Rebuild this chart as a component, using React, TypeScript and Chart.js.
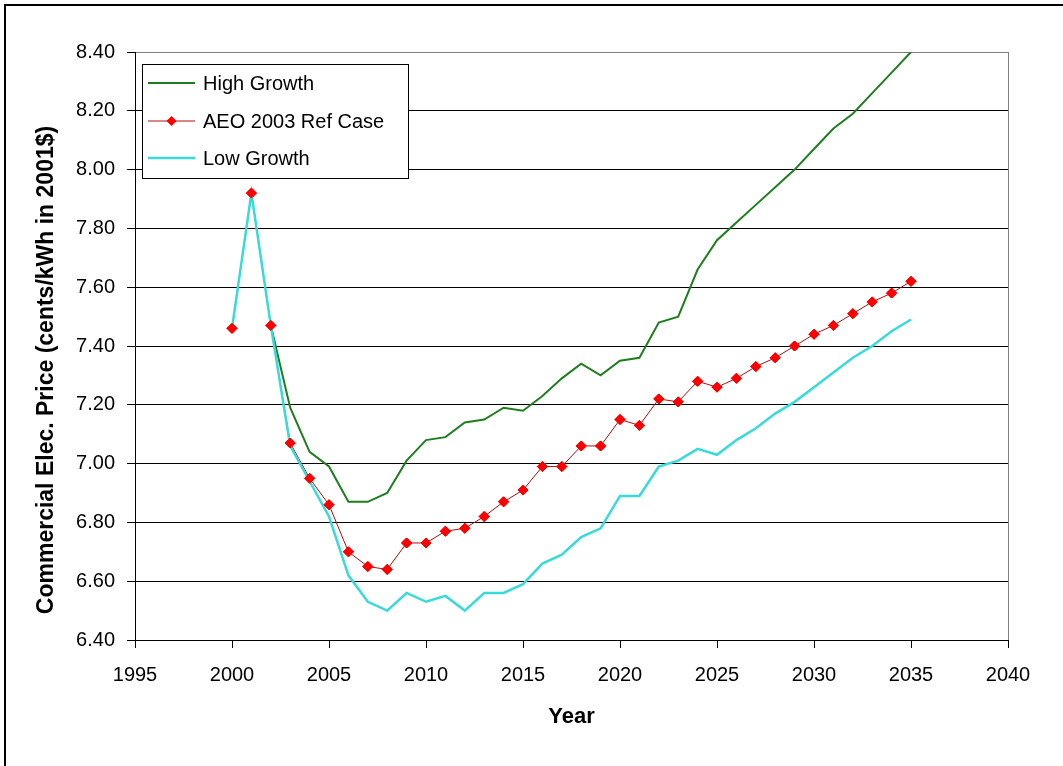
import React, { useEffect, useRef } from "react";
import { Chart, registerables } from "chart.js";

Chart.register(...registerables);

const years: number[] = [
  2000, 2001, 2002, 2003, 2004, 2005, 2006, 2007, 2008, 2009,
  2010, 2011, 2012, 2013, 2014, 2015, 2016, 2017, 2018, 2019,
  2020, 2021, 2022, 2023, 2024, 2025, 2026, 2027, 2028, 2029,
  2030, 2031, 2032, 2033, 2034, 2035,
];

const highGrowth: (number | null)[] = [
  null, null, 7.47, 7.19, 7.04, 6.99, 6.87, 6.87, 6.9, 7.01,
  7.08, 7.09, 7.14, 7.15, 7.19, 7.18, 7.23, 7.29, 7.34, 7.3,
  7.35, 7.36, 7.48, 7.5, 7.66, 7.76, 7.82, 7.88, 7.94, 8.0,
  8.07, 8.14, 8.19, 8.26, 8.33, 8.4,
];

const refCase: number[] = [
  7.46, 7.92, 7.47, 7.07, 6.95, 6.86, 6.7, 6.65, 6.64, 6.73,
  6.73, 6.77, 6.78, 6.82, 6.87, 6.91, 6.99, 6.99, 7.06, 7.06,
  7.15, 7.13, 7.22, 7.21, 7.28, 7.26, 7.29, 7.33, 7.36, 7.4,
  7.44, 7.47, 7.51, 7.55, 7.58, 7.62,
];

const lowGrowth: number[] = [
  7.46, 7.92, 7.47, 7.06, 6.94, 6.82, 6.62, 6.53, 6.5, 6.56,
  6.53, 6.55, 6.5, 6.56, 6.56, 6.59, 6.66, 6.69, 6.75, 6.78,
  6.89, 6.89, 6.99, 7.01, 7.05, 7.03, 7.08, 7.12, 7.17, 7.21,
  7.26, 7.31, 7.36, 7.4, 7.45, 7.49,
];

const seriesLabels = ["High Growth", "AEO 2003 Ref Case", "Low Growth"];
const xTitle = "Year";
const yTitle = "Commercial Elec. Price (cents/kWh in 2001$)";

const FONT = "'Liberation Sans', Arial, sans-serif";

const toPoints = (vals: (number | null)[]) =>
  years.map((yr, i) => ({ x: yr, y: vals[i] }));

const framePlugin = {
  id: "frame",
  beforeDraw(chart: any) {
    const ctx = chart.ctx;
    ctx.save();
    ctx.fillStyle = "#ffffff";
    ctx.fillRect(0, 0, chart.width, chart.height);
    ctx.fillStyle = "#000000";
    ctx.fillRect(4, 4, chart.width - 4, 2);
    ctx.fillRect(4, 4, 2, chart.height - 4);
    ctx.restore();
  },
  afterDraw(chart: any) {
    const ctx = chart.ctx;
    ctx.save();
    ctx.translate(47, 370);
    ctx.rotate(-Math.PI / 2);
    ctx.font = `bold 23px ${FONT}`;
    ctx.fillStyle = "#000000";
    ctx.textAlign = "center";
    ctx.textBaseline = "middle";
    ctx.fillText(yTitle, 0, 0);
    ctx.restore();
  },
};

// markers of the reference case sit above every line, while its thin
// connecting line stays beneath the cyan series
const markersOnTopPlugin = {
  id: "markersOnTop",
  afterDatasetsDraw(chart: any) {
    const meta = chart.getDatasetMeta(1);
    if (!meta || meta.hidden) return;
    const ctx = chart.ctx;
    ctx.save();
    meta.data.forEach((pt: any) => pt.draw(ctx, chart.chartArea));
    ctx.restore();
  },
};

const legendPlugin = {
  id: "boxLegend",
  afterDatasetsDraw(chart: any) {
    const ctx = chart.ctx;
    const x0 = 142, y0 = 64, w = 266, h = 114;
    ctx.save();
    ctx.fillStyle = "#ffffff";
    ctx.fillRect(x0, y0, w, h);
    ctx.strokeStyle = "#000000";
    ctx.lineWidth = 1;
    ctx.strokeRect(x0 + 0.5, y0 + 0.5, w, h);
    const rowY = [83, 121, 158];
    chart.data.datasets.forEach((ds: any, i: number) => {
      const y = rowY[i];
      ctx.strokeStyle = ds.borderColor;
      ctx.lineWidth = ds.borderWidth;
      ctx.beginPath();
      ctx.moveTo(148, y);
      ctx.lineTo(195, y);
      ctx.stroke();
      if (ds.pointRadius > 0) {
        const r = ds.pointRadius;
        ctx.fillStyle = ds.pointBackgroundColor;
        ctx.beginPath();
        ctx.moveTo(171.5, y - r);
        ctx.lineTo(171.5 + r, y);
        ctx.lineTo(171.5, y + r);
        ctx.lineTo(171.5 - r, y);
        ctx.closePath();
        ctx.fill();
      }
      ctx.fillStyle = "#000000";
      ctx.font = `20px ${FONT}`;
      ctx.textAlign = "left";
      ctx.textBaseline = "middle";
      ctx.fillText(ds.label, 203, y + 1);
    });
    ctx.restore();
  },
};

export default function App() {
  const canvasRef = useRef<HTMLCanvasElement | null>(null);

  useEffect(() => {
    const canvas = canvasRef.current;
    if (!canvas) return;
    const chart = new Chart(canvas, {
      type: "line",
      data: {
        datasets: [
          {
            label: seriesLabels[0],
            data: toPoints(highGrowth),
            borderColor: "#1E7E1E",
            backgroundColor: "#1E7E1E",
            borderWidth: 2,
            pointRadius: 0,
            tension: 0,
            order: 3,
          },
          {
            label: seriesLabels[1],
            data: toPoints(refCase),
            borderColor: "#B01010",
            backgroundColor: "#FF0000",
            borderWidth: 1,
            pointStyle: "rectRot",
            pointRadius: 5,
            pointBackgroundColor: "#FF0000",
            pointBorderColor: "#FF0000",
            pointBorderWidth: 1,
            tension: 0,
            order: 2,
          },
          {
            label: seriesLabels[2],
            data: toPoints(lowGrowth),
            borderColor: "#38DADA",
            backgroundColor: "#38DADA",
            borderWidth: 2.5,
            pointRadius: 0,
            tension: 0,
            order: 1,
          },
        ] as any,
      },
      options: {
        responsive: false,
        animation: false,
        maintainAspectRatio: false,
        layout: { padding: { top: 52, right: 55, left: 0, bottom: 0 } },
        plugins: {
          legend: { display: false },
          tooltip: { enabled: false },
        },
        scales: {
          x: {
            type: "linear",
            min: 1995,
            max: 2040,
            ticks: {
              stepSize: 5,
              color: "#000000",
              padding: 15,
              font: { family: FONT, size: 20 },
              callback: (v: any) => String(v),
            },
            grid: {
              color: (c: any) =>
                c.tick && c.tick.value === 2040 ? "#808080" : "rgba(0,0,0,0)",
              tickColor: "#000000",
              tickLength: 8,
              lineWidth: 1,
            },
            border: { display: true, color: "#000000", width: 1 },
            title: {
              display: true,
              text: xTitle,
              color: "#000000",
              font: { family: FONT, size: 22, weight: "bold" },
              padding: { top: 0, bottom: 36 },
            },
            afterFit: (s: any) => {
              s.height = 126;
            },
          },
          y: {
            type: "linear",
            min: 6.4,
            max: 8.4,
            ticks: {
              stepSize: 0.2,
              color: "#000000",
              padding: 12,
              font: { family: FONT, size: 20 },
              callback: (v: any) => Number(v).toFixed(2),
            },
            grid: {
              color: (c: any) =>
                c.tick && c.tick.value > 8.39 ? "#808080" : "#000000",
              tickColor: "#000000",
              tickLength: 8,
              lineWidth: 1,
            },
            border: { display: true, color: "#000000", width: 1 },
            afterFit: (s: any) => {
              s.width = 135;
            },
          },
        },
      } as any,
      plugins: [framePlugin, markersOnTopPlugin, legendPlugin],
    });
    return () => chart.destroy();
  }, []);

  return (
    <div style={{ position: "absolute", left: 0, top: 0, width: 1063, height: 766 }}>
      <canvas ref={canvasRef} width={1063} height={766} />
    </div>
  );
}
